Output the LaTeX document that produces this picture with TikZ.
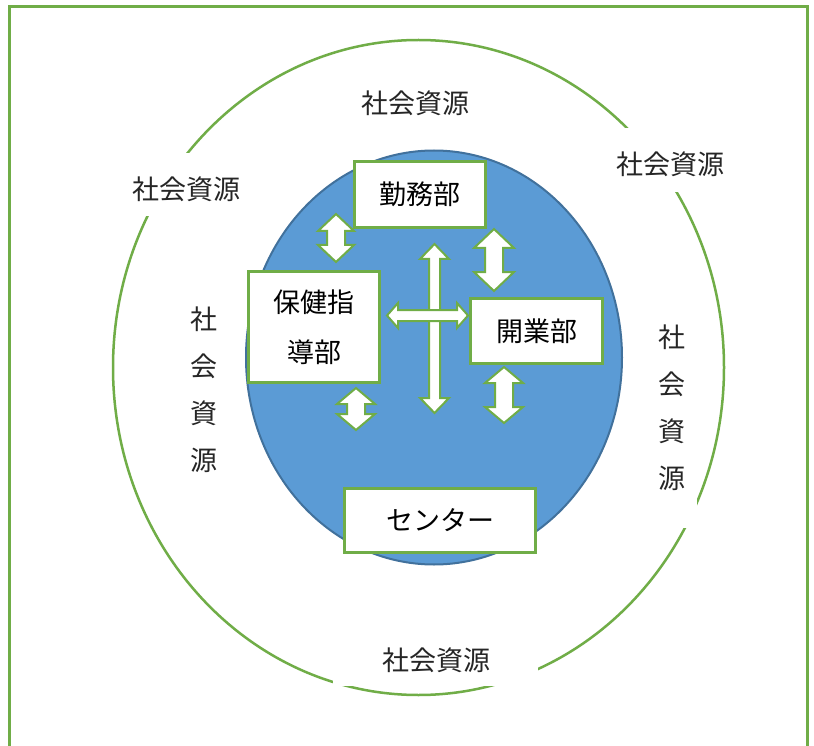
\documentclass[tikz,border=0pt]{standalone}
\usepackage{fontspec}
\newfontfamily\jp{Noto Sans CJK JP}
\definecolor{grn}{HTML}{70AD47}
\definecolor{bfill}{HTML}{5B9BD5}
\definecolor{bline}{HTML}{41719C}
\tikzset{
  dept/.style={draw=grn, line width=3pt, fill=white, inner sep=0pt, font=\jp\fontsize{27}{50}\selectfont, align=center},
  res/.style={inner sep=0pt, font=\jp\fontsize{27}{47}\selectfont, align=center, text=black!85},
  blk/.style={draw=grn, line width=2pt, fill=white, line join=miter},
  gap/.style={fill=white, draw=none}
}
\newcommand\vdarr[6]{%
  \path[blk] (#1,#2) -- (#1+#4,#2+#6) -- (#1+#5,#2+#6) -- (#1+#5,#3-#6) -- (#1+#4,#3-#6) -- (#1,#3)
    -- (#1-#4,#3-#6) -- (#1-#5,#3-#6) -- (#1-#5,#2+#6) -- (#1-#4,#2+#6) -- cycle;}
\newcommand\hdarr[6]{%
  \path[blk] (#2,#1) -- (#2+#6,#1-#4) -- (#2+#6,#1-#5) -- (#3-#6,#1-#5) -- (#3-#6,#1-#4) -- (#3,#1)
    -- (#3-#6,#1+#4) -- (#3-#6,#1+#5) -- (#2+#6,#1+#5) -- (#2+#6,#1+#4) -- cycle;}
\begin{document}
\begin{tikzpicture}[x=1pt,y=-1pt]
\useasboundingbox (0,0) rectangle (814,746);
\fill[white] (0,0) rectangle (814,746);
% frame
\draw[grn, line width=3pt] (9,760) -- (9,7) -- (807,7) -- (807,760);
% outer circle
\draw[grn, line width=2.5pt] (418.5,367.5) ellipse [x radius=305.5, y radius=327.5];
% gaps for labels
\path[gap] (125,153) rectangle (252,216);
\path[gap] (605,128) rectangle (735,192);
\path[gap] (333,634) rectangle (538,686);
\path[gap] (645,300) rectangle (697,528);
% resource labels
\node[res] (r1) at (415,103) {社会資源};
\node[res] (r2) at (186,189) {社会資源};
\node[res] (r3) at (670,164) {社会資源};
\node[res] (r4) at (436,660) {社会資源};
\node[res] (r5) at (204,390) {社\\会\\資\\源};
\node[res] (r6) at (672,408) {社\\会\\資\\源};
% inner blue ellipse
\draw[bline, fill=bfill, line width=2pt] (434,357.5) ellipse [x radius=188, y radius=207];
% departments
\node[dept, minimum width=131pt, minimum height=66pt] (kinmu) at (420,194.5) {勤務部};
\node[dept, minimum width=131pt, minimum height=111pt] (hoken) at (314,327) {保健指\\導部};
\node[dept, minimum width=132pt, minimum height=65pt] (kaigyo) at (536.5,331) {開業部};
\node[dept, minimum width=191pt, minimum height=64pt] (center) at (440,520.5) {センター};
% block arrows
\vdarr{336}{214}{262}{18}{9}{17}
\vdarr{494}{229}{291}{20}{9}{19}
\vdarr{434.5}{244}{413}{14.5}{5.5}{15}
\hdarr{315.5}{387}{468}{12.5}{5.5}{11}
\vdarr{356}{388}{430}{19}{9}{16}
\vdarr{504}{367}{423}{19}{9}{16}
\end{tikzpicture}
\end{document}
